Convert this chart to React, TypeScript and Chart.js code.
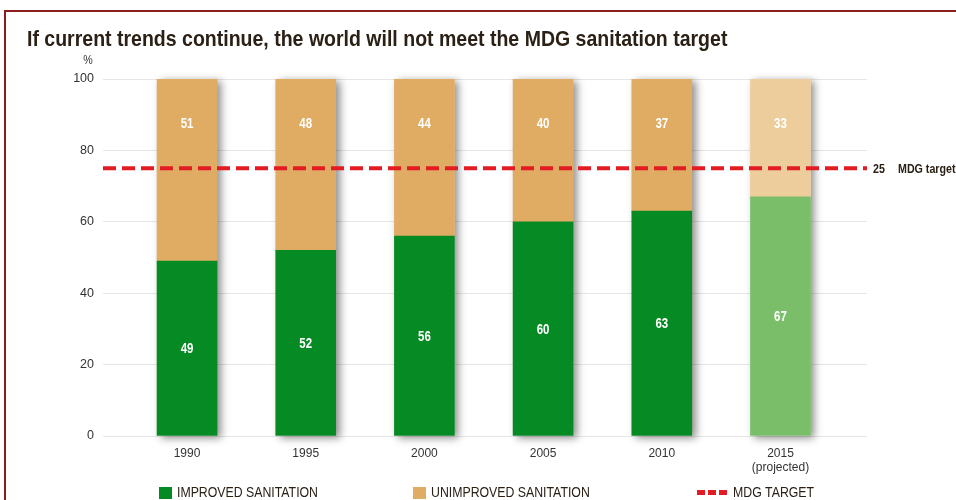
import React, { useEffect, useRef } from "react";
import { Chart, registerables } from "chart.js";

Chart.register(...registerables);

const categories = ["1990", "1995", "2000", "2005", "2010", "2015"];
const categorySubLabels = ["", "", "", "", "", "(projected)"];
const improved = [49, 52, 56, 60, 63, 67];
const unimproved = [51, 48, 44, 40, 37, 33];
const improvedColors = ["#068a23", "#068a23", "#068a23", "#068a23", "#068a23", "#7bbe69"];
const unimprovedColors = ["#e0ab63", "#e0ab63", "#e0ab63", "#e0ab63", "#e0ab63", "#eecd9d"];
const mdgTarget = 75;
const mdgTargetLabel = "25";
const yTicks = [0, 20, 40, 60, 80, 100];

const FONT = "'Liberation Sans', Arial, sans-serif";
const DARK = "#2a2016";
const RED = "#e31b23";
const NARROW = 0.82;

function narrowText(ctx: any, text: string, x: number, y: number, font: string, align: string, sx: number = NARROW) {
  ctx.save();
  ctx.font = font;
  ctx.textAlign = align;
  ctx.translate(x, y);
  ctx.scale(sx, 1);
  ctx.fillText(text, 0, 0);
  ctx.restore();
}

const shadowPlugin = {
  id: "barShadow",
  beforeDatasetsDraw(chart: any) {
    const ctx = chart.ctx;
    const m0 = chart.getDatasetMeta(0);
    const m1 = chart.getDatasetMeta(1);
    ctx.save();
    m0.data.forEach((el: any, i: number) => {
      const top = m1.data[i];
      const w = el.width;
      ctx.shadowColor = "rgba(0,0,0,0.45)";
      ctx.shadowBlur = 8;
      ctx.shadowOffsetX = 4;
      ctx.shadowOffsetY = 2;
      ctx.fillStyle = "#ffffff";
      ctx.fillRect(el.x - w / 2, top.y, w, el.base - top.y);
    });
    ctx.restore();
  },
};

const overlayPlugin = {
  id: "overlay",
  afterDatasetsDraw(chart: any) {
    const ctx = chart.ctx;
    const y = chart.scales.y;
    const area = chart.chartArea;
    const ty = y.getPixelForValue(mdgTarget);
    ctx.save();
    ctx.strokeStyle = RED;
    ctx.lineWidth = 4;
    ctx.setLineDash([13, 6]);
    ctx.beginPath();
    ctx.moveTo(area.left, ty);
    ctx.lineTo(area.right, ty);
    ctx.stroke();
    ctx.restore();

    ctx.save();
    ctx.fillStyle = "#ffffff";
    ctx.textBaseline = "middle";
    const lf = `bold 14px ${FONT}`;
    const m0 = chart.getDatasetMeta(0);
    const m1 = chart.getDatasetMeta(1);
    m0.data.forEach((el: any, i: number) => {
      narrowText(ctx, String(improved[i]), el.x, (el.y + el.base) / 2 + 1, lf, "center");
    });
    m1.data.forEach((el: any, i: number) => {
      narrowText(ctx, String(unimproved[i]), el.x, (el.y + ty) / 2 + 1, lf, "center");
    });
    ctx.restore();

    ctx.save();
    ctx.fillStyle = DARK;
    ctx.textBaseline = "middle";
    narrowText(ctx, mdgTargetLabel, area.right + 6, ty + 1, `bold 13px ${FONT}`, "left");
    narrowText(ctx, "MDG target", area.right + 31, ty + 1, `bold 13px ${FONT}`, "left");
    ctx.restore();
  },
  afterDraw(chart: any) {
    const ctx = chart.ctx;
    ctx.save();
    ctx.fillStyle = "#8b1c1c";
    ctx.fillRect(4, 10, 952, 2);
    ctx.fillRect(4, 10, 2, 490);
    ctx.fillStyle = DARK;
    ctx.textBaseline = "alphabetic";
    narrowText(ctx, "If current trends continue, the world will not meet the MDG sanitation target", 27, 46, `bold 22px ${FONT}`, "left", 0.887);
    ctx.fillStyle = "#333333";
    ctx.textBaseline = "middle";
    narrowText(ctx, "%", 88, 60, `13px ${FONT}`, "center");
    ctx.fillStyle = "#068a23";
    ctx.fillRect(159, 487, 13, 12);
    ctx.fillStyle = "#e0ab63";
    ctx.fillRect(413, 487, 13, 12);
    ctx.fillStyle = RED;
    ctx.fillRect(697, 490, 8, 5);
    ctx.fillRect(708, 490, 8, 5);
    ctx.fillRect(719, 490, 8, 5);
    ctx.fillStyle = DARK;
    const lg = `15px ${FONT}`;
    narrowText(ctx, "IMPROVED SANITATION", 177, 493, lg, "left");
    narrowText(ctx, "UNIMPROVED SANITATION", 431, 493, lg, "left");
    narrowText(ctx, "MDG TARGET", 733, 493, lg, "left");
    ctx.restore();
  },
};

export default function App() {
  const ref = useRef<HTMLCanvasElement | null>(null);
  useEffect(() => {
    document.body.style.margin = "0";
    const canvas = ref.current;
    if (!canvas) return;
    const chart = new Chart(canvas, {
      type: "bar",
      data: {
        datasets: [
          {
            label: "Improved sanitation",
            data: improved.map((v, i) => ({ x: i, y: v })),
            backgroundColor: improvedColors,
            barThickness: 60,
          },
          {
            label: "Unimproved sanitation",
            data: unimproved.map((v, i) => ({ x: i, y: v })),
            backgroundColor: unimprovedColors,
            barThickness: 60,
          },
        ],
      },
      options: {
        responsive: false,
        animation: false,
        layout: { padding: { top: 79, right: 89, left: 0, bottom: 0 } },
        plugins: { legend: { display: false }, tooltip: { enabled: false }, title: { display: false } },
        scales: {
          x: {
            type: "linear",
            stacked: true,
            offset: false,
            min: -0.708,
            max: 5.729,
            grid: { display: false, drawTicks: false },
            border: { display: false },
            afterBuildTicks: (scale: any) => {
              scale.ticks = categories.map((_, i) => ({ value: i }));
            },
            afterFit: (scale: any) => {
              scale.height = 64;
            },
            ticks: {
              padding: 10,
              color: "#333333",
              font: { family: FONT, size: 12 },
              maxRotation: 0,
              autoSkip: false,
              callback: (_v: any, i: number) =>
                categorySubLabels[i] ? [categories[i], categorySubLabels[i]] : categories[i],
            },
          },
          y: {
            stacked: true,
            min: 0,
            max: 100,
            grid: { color: "#e6e6e6", lineWidth: 1, drawTicks: false },
            border: { display: false },
            afterBuildTicks: (scale: any) => {
              scale.ticks = yTicks.map((v) => ({ value: v }));
            },
            afterFit: (scale: any) => {
              scale.width = 103;
            },
            ticks: {
              padding: 9,
              color: "#333333",
              font: { family: FONT, size: 12.5 },
            },
          },
        },
      },
      plugins: [shadowPlugin, overlayPlugin],
    });
    return () => chart.destroy();
  }, []);
  return <canvas ref={ref} width={956} height={500} style={{ display: "block" }} />;
}
